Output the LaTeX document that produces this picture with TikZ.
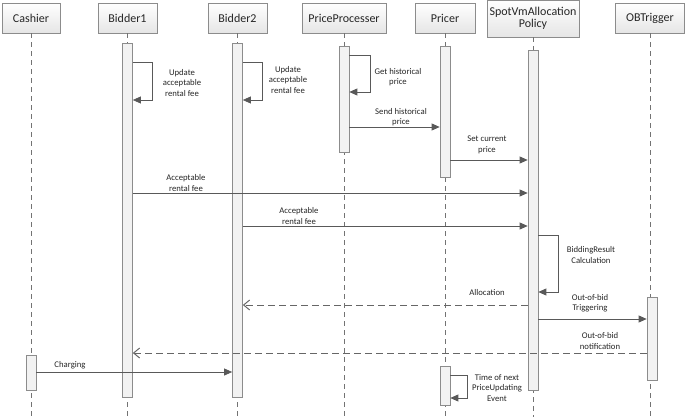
\documentclass[tikz,border=0pt]{standalone}
\usepackage{fontspec}
\setmainfont{Carlito}
\definecolor{linegray}{HTML}{595959}
\definecolor{boxgray}{HTML}{8C8C8C}
\definecolor{barfill}{HTML}{F2F2F2}
\usetikzlibrary{arrows.meta, shadows, positioning}
\tikzset{
	head/.style={draw=boxgray, top color=white, bottom color=black!10, minimum height=30pt,
		inner sep=1pt, align=center, font=\fontsize{12}{13}\selectfont\color{black!85},
		drop shadow={opacity=0.25, shadow xshift=1pt, shadow yshift=-1pt}}
}
\tikzset{
	life/.style={draw=black!55, line width=0.7pt, dash pattern=on 5pt off 4pt},
	bar/.style={draw=boxgray, fill=barfill, line width=0.7pt, minimum width=10pt, inner sep=0pt},
	msg/.style={draw=linegray, line width=0.8pt, -{Triangle[length=8pt,width=7pt]}},
	ret/.style={draw=black!60, line width=1pt, dash pattern=on 7pt off 4pt, -{Straight Barb[length=6pt,width=10pt]}},
	lbl/.style={font=\fontsize{8.7}{10.5}\selectfont\color{black!85}, align=center}
}
\newcommand{\selfcall}[4]{% bar, top, bottom, width
  \draw[msg] (#1.east |- 0,#2) -- ++(#4,0) |- (#1.east |- 0,#3);}

\begin{document}
\begin{tikzpicture}[x=1pt, y=-1pt]
      \useasboundingbox (0,0) rectangle (685,417);
      % lifeline heads
      \node[head, minimum width=58pt] (cashier) at (31,18) {Cashier};
      \node[head, minimum width=59pt] (bidder1) at (127.5,18) {Bidder1};
      \node[head, minimum width=59pt] (bidder2) at (237.5,18) {Bidder2};
      \node[head, minimum width=84pt] (procr) at (344,18) {PriceProcesser};
      \node[head, minimum width=60pt] (pricer) at (445,18) {Pricer};
      \node[head, minimum width=92pt, minimum height=37pt] (policy) at (533,18.5) {SpotVmAllocation\\[-1pt]Policy};
      \node[head, minimum width=69pt] (obtrig) at (650,18) {OBTrigger};
      \foreach \n in {cashier, bidder1, bidder2, procr, pricer, policy, obtrig}
        \draw[life] (\n.south) -- (\n |- 0,417);
      % activation bars
      \node[bar, minimum height=35pt] (cabar) at (31,372.5) {};
      \node[bar, minimum height=354pt] (b1bar) at (127.5,220) {};
      \node[bar, minimum height=354pt] (b2bar) at (237.5,220) {};
      \node[bar, minimum height=106pt] (ppbar) at (344,99) {};
      \node[bar, minimum height=131pt] (prbar) at (445,111.5) {};
      \node[bar, minimum height=39pt] (prbarb) at (445,385.5) {};
      \node[bar, minimum height=340pt] (spbar) at (533,220) {};
      \node[bar, minimum height=83pt] (obbar) at (652,338.5) {};
      % self calls
      \selfcall{b1bar}{62}{100}{20}
      \node[lbl] (upd1) at (182,83) {Update\\acceptable\\rental fee};
      \selfcall{b2bar}{62}{100}{20}
      \node[lbl] (upd2) at (288,80) {Update\\acceptable\\rental fee};
      \selfcall{ppbar}{55}{92}{21}
      \node[lbl] (gethist) at (398,77) {Get historical\\price};
      % messages
      \draw[msg] (ppbar.east |- 0,127) -- (prbar.west |- 0,127);
      \node[lbl] (sendhist) at (401,117) {Send historical\\price};
      \draw[msg] (prbar.east |- 0,160) -- (spbar.west |- 0,160);
      \node[lbl] (setcur) at (487,145) {Set current\\price};
      \draw[msg] (b1bar.east |- 0,193) -- (spbar.west |- 0,193);
      \node[lbl] (acc1) at (186,183) {Acceptable\\rental fee};
      \draw[msg] (b2bar.east |- 0,226) -- (spbar.west |- 0,226);
      \node[lbl] (acc2) at (299,216) {Acceptable\\rental fee};
      \selfcall{spbar}{235}{292}{20}
      \node[lbl] (bidres) at (591,255) {BiddingResult\\Calculation};
      \draw[ret] (spbar.west |- 0,305) -- (b2bar.east |- 0,305);
      \node[lbl] (alloc) at (487,293) {Allocation};
      \draw[msg] (spbar.east |- 0,319) -- (obbar.west |- 0,319);
      \node[lbl] (trig) at (590,303) {Out-of-bid\\Triggering};
      \draw[ret] (obbar.west |- 0,353) -- (b1bar.east |- 0,353);
      \node[lbl] (notif) at (600,341) {Out-of-bid\\notification};
      \draw[msg] (cabar.east |- 0,372) -- (b2bar.west |- 0,372);
      \node[lbl] (charge) at (70,365) {Charging};
      \selfcall{prbarb}{375}{398}{17}
      \node[lbl] (nextev) at (497,388) {Time of next\\PriceUpdating\\Event};
    \end{tikzpicture}
\end{document}
